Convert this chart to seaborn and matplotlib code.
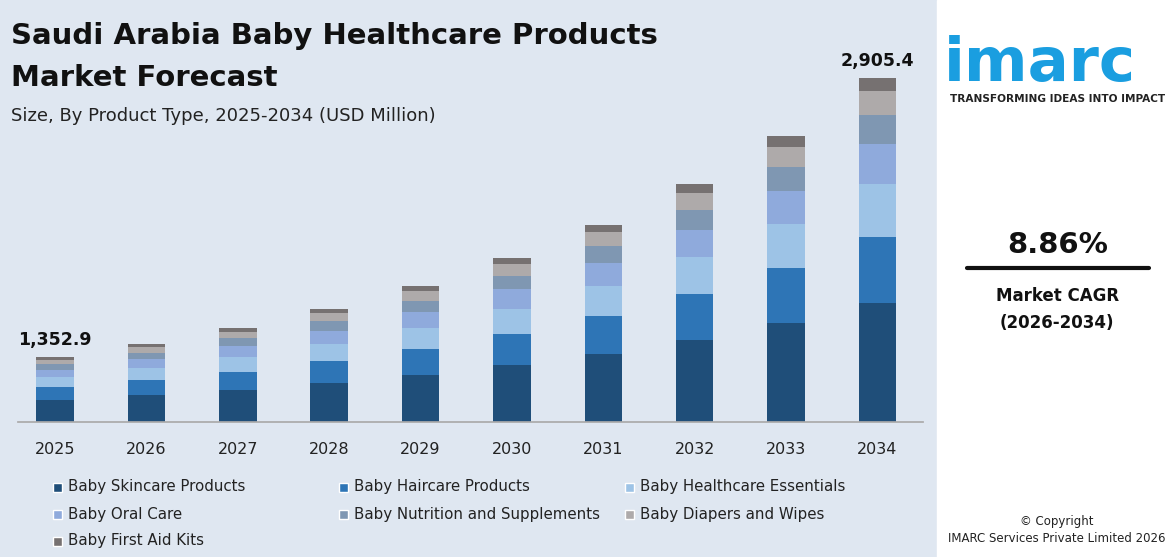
import matplotlib
matplotlib.use("Agg")
import matplotlib.pyplot as plt
import seaborn as sns
import numpy as np
import pandas as pd
from matplotlib.patches import Rectangle

sns.set_theme(style="white")
plt.rcParams['font.family'] = ['DejaVu Sans']

years = ["2025", "2026", "2027", "2028", "2029", "2030", "2031", "2032", "2033", "2034"]
# displayed bar heights (relative units)
bar_heights = [65, 78, 94, 113, 136, 164, 197, 238, 286, 344]
end_labels = {"2025": "1,352.9", "2034": "2,905.4"}
segments = ["Baby Skincare Products", "Baby Haircare Products", "Baby Healthcare Essentials",
            "Baby Oral Care", "Baby Nutrition and Supplements", "Baby Diapers and Wipes",
            "Baby First Aid Kits"]
shares = [0.346, 0.192, 0.154, 0.116, 0.084, 0.070, 0.038]
colors = ["#1f4e79", "#2e75b6", "#9dc3e6", "#8faadc", "#7f97b2", "#aeaaaa", "#767171"]

rows = []
for y, h in zip(years, bar_heights):
    for s, sh in zip(segments, shares):
        rows.append([y, s, h * sh])
df = pd.DataFrame(rows, columns=["Year", "Segment", "Value"])
df["Segment"] = pd.Categorical(df["Segment"], segments, ordered=True)
df = df.sort_values(["Year", "Segment"])
df["Cum"] = df.groupby("Year")["Value"].cumsum()

fig = plt.figure(figsize=(11.76, 5.57), dpi=100)
fig.patch.set_facecolor("#dfe7f1")
fig.patches.append(Rectangle((0.797, 0), 0.203, 1, transform=fig.transFigure,
                             facecolor="white", zorder=0))

ax = fig.add_axes([0.015, 0.242, 0.77, 0.66])
ax.set_facecolor("none")
for seg, col in reversed(list(zip(segments, colors))):
    sub = df[df["Segment"] == seg]
    sns.barplot(data=sub, x="Year", y="Cum", order=years, color=col,
                width=0.41, ax=ax, errorbar=None, saturation=1, linewidth=0)
ax.set_xlim(-0.41, 9.5)
ax.set_ylim(0, 367)
for i, y in enumerate(years):
    if y in end_labels:
        ax.text(i, bar_heights[i] + 8, end_labels[y], ha="center", va="bottom",
                fontsize=12.5, fontweight="bold", color="#111111")
ax.set_xlabel("")
ax.set_ylabel("")
ax.set_yticks([])
ax.tick_params(axis="x", labelsize=11.5, colors="#222222", pad=8)
sns.despine(ax=ax, left=True)
ax.spines["bottom"].set_color("#aaaaaa")

fig.text(0.009, 0.935, "Saudi Arabia Baby Healthcare Products", fontsize=21,
         fontweight="bold", color="#111111", va="center")
fig.text(0.009, 0.86, "Market Forecast", fontsize=21, fontweight="bold",
         color="#111111", va="center")
fig.text(0.009, 0.792, "Size, By Product Type, 2025-2034 (USD Million)", fontsize=13,
         color="#222222", va="center")

# legend, laid out row-wise in three fixed columns
col_x = [53, 339, 625]
row_y = [487, 514, 541]
for k, (seg, col) in enumerate(zip(segments, colors)):
    px, py = col_x[k % 3], row_y[k // 3]
    fig.patches.append(Rectangle((px / 1176, 1 - (py + 4.5) / 557), 9 / 1176, 9 / 557,
                                 transform=fig.transFigure, facecolor=col))
    fig.text((px + 15) / 1176, 1 - py / 557, seg, fontsize=10.8, color="#222222",
             va="center")

# right panel
fig.text(0.803, 0.885, "imarc", fontsize=44, fontweight="bold", color="#1a9ee0",
         va="center", ha="left")
fig.text(0.808, 0.822, "TRANSFORMING IDEAS INTO IMPACT", fontsize=7.6,
         fontweight="bold", color="#222222", va="center")
fig.text(0.899, 0.56, "8.86%", fontsize=21, fontweight="bold", color="#111111",
         ha="center", va="center")
fig.lines.append(plt.Line2D([0.822, 0.977], [0.518, 0.518], transform=fig.transFigure,
                            color="#111111", linewidth=3))
fig.text(0.899, 0.468, "Market CAGR", fontsize=12, fontweight="bold", color="#111111",
         ha="center", va="center")
fig.text(0.899, 0.42, "(2026-2034)", fontsize=12, fontweight="bold", color="#111111",
         ha="center", va="center")
fig.text(0.899, 0.063, "© Copyright", fontsize=8.5, color="#222222", ha="center", va="center")
fig.text(0.899, 0.033, "IMARC Services Private Limited 2026", fontsize=8.5,
         color="#222222", ha="center", va="center")

fig.savefig("out.png", dpi=100, facecolor=fig.get_facecolor())
